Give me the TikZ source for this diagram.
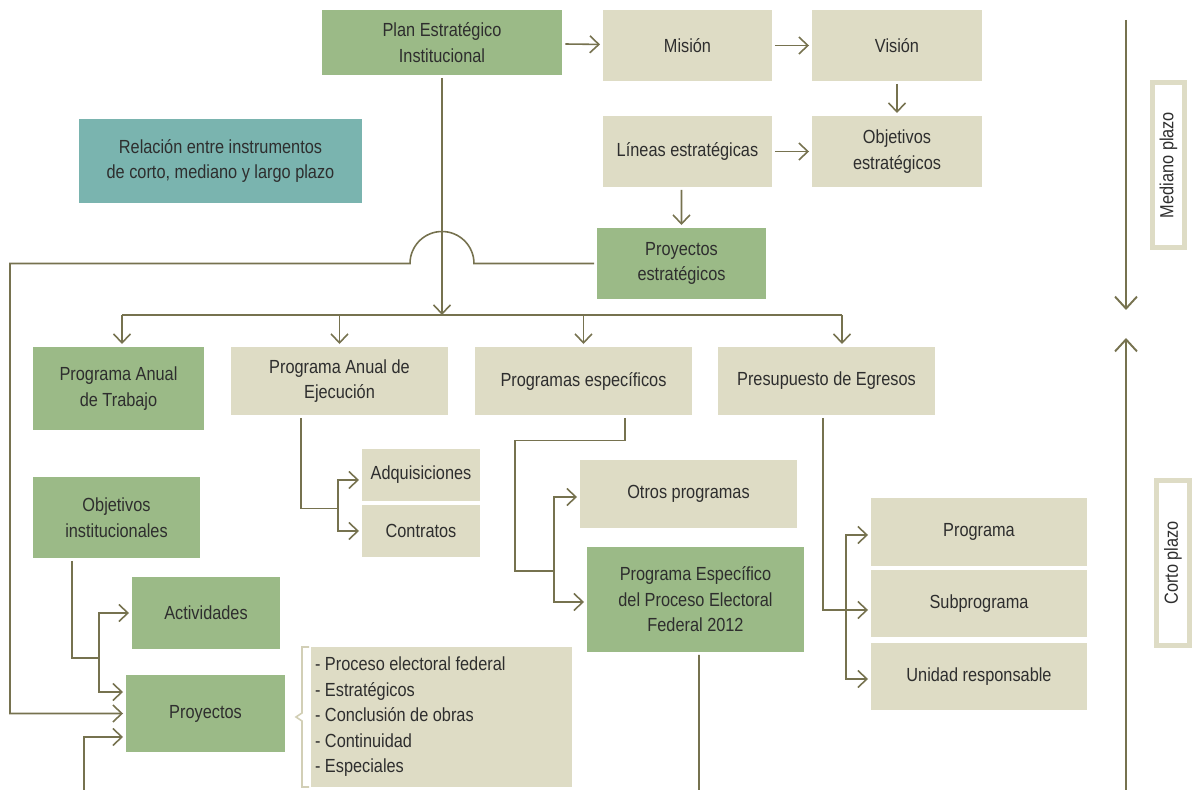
\documentclass[tikz,border=0pt]{standalone}
\usepackage{fontspec}
\setmainfont{Liberation Sans}[FakeStretch=0.86]
\usepackage{tikz}
\usetikzlibrary{arrows.meta,positioning}
\definecolor{verde}{HTML}{9BBA87}
\definecolor{arena}{HTML}{DEDCC5}
\definecolor{turquesa}{HTML}{7AB4AF}
\definecolor{linea}{HTML}{76724F}
\definecolor{texto}{HTML}{2E2E2E}
\definecolor{llavegris}{HTML}{D2CFB6}
\tikzset{
	box/.style={inner sep=0pt, outer sep=0.06cm, align=center, text=texto,
		font=\fontsize{10.8}{14.5}\selectfont},
	greenbox/.style={box, fill=verde},
	sandbox/.style={box, fill=arena},
	link/.style={draw=linea, line width=0.9pt},
	arrow/.style={link, -{Straight Barb[length=0.18cm,width=0.34cm]}},
	bigarrow/.style={draw=linea, line width=1.1pt, -{Straight Barb[length=0.24cm,width=0.44cm]}},
	plazo/.style={draw=arena, fill=white, line width=0.1cm, rotate=90, inner sep=0pt,
		text=texto, font=\fontsize{10.8}{14.5}\selectfont},
	llave/.style={draw=llavegris, line width=0.9pt}
}

\begin{document}
\begin{tikzpicture}[x=0.02cm, y=-0.02cm]
	\useasboundingbox (0,0) rectangle (1198,790);
	
	%% -- Mediano plazo (top)
	\node[greenbox, minimum width=4.82cm, minimum height=1.30cm] (plan) at (442,42.5)
	{Plan Estratégico\\Institucional};
	\node[sandbox, minimum width=3.38cm, minimum height=1.42cm] (mision) at (687.5,45.5) {Misión};
	\node[sandbox, minimum width=3.40cm, minimum height=1.42cm] (vision) at (897,45.5) {Visión};
	\node[sandbox, minimum width=3.38cm, minimum height=1.42cm] (lineas) at (687.5,151.5)
	{Líneas estratégicas};
	\node[sandbox, minimum width=3.40cm, minimum height=1.42cm] (objest) at (897,151.5)
	{Objetivos\\estratégicos};
	\node[greenbox, minimum width=3.38cm, minimum height=1.42cm] (proyest) at (681.5,263.5)
	{Proyectos\\estratégicos};
	
	\node[box, fill=turquesa, minimum width=5.66cm, minimum height=1.68cm] (relacion) at (220.5,161)
	{Relación entre instrumentos\\de corto, mediano y largo plazo};
	
	\draw[arrow] (plan) -- (mision);
	\draw[arrow] (mision) -- (vision);
	\draw[arrow] (vision) -- (objest);
	\draw[arrow] (lineas) -- (objest);
	\draw[arrow] ([xshift=-0.12cm]lineas.south) -- ([xshift=0cm]proyest.north);
	
	%% -- Corto plazo (second row)
	\node[greenbox, minimum width=3.42cm, minimum height=1.66cm] (pat) at (118.5,388.5)
	{Programa Anual\\de Trabajo};
	\node[sandbox, minimum width=4.34cm, minimum height=1.36cm] (pae) at (339.5,381)
	{Programa Anual de\\Ejecución};
	\node[sandbox, minimum width=4.34cm, minimum height=1.36cm] (pe) at (583.5,381)
	{Programas específicos};
	\node[sandbox, minimum width=4.34cm, minimum height=1.36cm] (presup) at (826.5,381)
	{Presupuesto de Egresos};
	
	\coordinate (reparto) at (442,315);
	\draw[arrow] (plan) -- (reparto);
	\draw[link] ([xshift=0.07cm]pat.north |- reparto) -- ([xshift=0.31cm]presup.north |- reparto);
	\foreach \n/\d in {pat/0.07, pae/0, pe/0, presup/0.31}
	\draw[arrow] ([xshift=\d cm]\n.north |- reparto) -- ([xshift=\d cm]\n.north);
	
	%% -- Ejecucion
	\node[sandbox, minimum width=2.36cm, minimum height=1.04cm] (adq) at (421,475) {Adquisiciones};
	\node[sandbox, minimum width=2.36cm, minimum height=1.04cm] (contratos) at (421,531) {Contratos};
	\coordinate (paeb) at (338,508.5);
	\draw[link] ([xshift=-0.77cm]pae.south) |- (paeb);
	\draw[arrow] (paeb) |- ([yshift=-0.1cm]adq.west);
	\draw[arrow] (paeb) |- (contratos.west);
	
	%% -- Programas especificos
	\node[sandbox, minimum width=4.34cm, minimum height=1.36cm] (otros) at (688.5,494) {Otros programas};
	\node[greenbox, minimum width=4.34cm, minimum height=2.10cm] (pepe) at (695.5,599.5)
	{Programa Específico\\del Proceso Electoral\\Federal 2012};
	\coordinate (pecodo) at (515,440.5);
	\coordinate (peb) at (554,571);
	\draw[link] ([xshift=0.83cm]pe.south) |- (pecodo) |- (peb);
	\draw[arrow] (peb) |- ([yshift=-0.06cm]otros.west);
	\draw[arrow] (peb) |- ([yshift=-0.05cm]pepe.west);
	\coordinate (fondo) at (699,790);
	\draw[link] ([xshift=0.07cm]pepe.south) -- (fondo);
	
	%% -- Presupuesto
	\node[sandbox, minimum width=4.32cm, minimum height=1.36cm] (programa) at (979,532) {Programa};
	\node[sandbox, minimum width=4.32cm, minimum height=1.34cm] (subprograma) at (979,603.5) {Subprograma};
	\node[sandbox, minimum width=4.32cm, minimum height=1.34cm] (unidad) at (979,676.5) {Unidad responsable};
	\coordinate (prb) at (846,610);
	\draw[arrow] ([xshift=-0.07cm]presup.south) |- ([yshift=-0.13cm]subprograma.west);
	\draw[arrow] (prb) |- ([yshift=-0.06cm]programa.west);
	\draw[arrow] (prb) |- ([yshift=-0.05cm]unidad.west);
	
	%% -- Programa Anual de Trabajo
	\node[greenbox, minimum width=3.34cm, minimum height=1.62cm] (objinst) at (116.5,517.5)
	{Objetivos\\institucionales};
	\node[greenbox, minimum width=2.96cm, minimum height=1.44cm] (actividades) at (206,613) {Actividades};
	\node[greenbox, minimum width=3.18cm, minimum height=1.54cm] (proyectos) at (205.5,713.5) {Proyectos};
	\coordinate (oib) at (99,658);
	\draw[link] ([xshift=-0.89cm]objinst.south) |- (oib);
	\draw[arrow] (oib) |- (actividades.west);
	\draw[arrow] (oib) |- ([yshift=0.43cm]proyectos.west);
	
	%% -- From Proyectos estrategicos, jumping over the main line
	\coordinate (esquina) at (10,263.5);
	\draw[arrow] (proyest.west) -- ([xshift=0.64cm]plan.south |- proyest.west)
	arc[start angle=0, end angle=180, radius=0.64cm] -- (esquina) |- (proyectos.west);
	\coordinate (abajo) at (84,790);
	\draw[arrow] (abajo) |- ([yshift=-0.47cm]proyectos.west);
	
	%% -- Tipos de proyectos
	\node[box, fill=arena, outer sep=0pt, text width=5.06cm, inner xsep=0.08cm,
	minimum height=2.8cm, align=flush left] (lista) at (441.5,717)
	{- Proceso electoral federal\\
		- Estratégicos\\
		- Conclusión de obras\\
		- Continuidad\\
		- Especiales};
	\draw[llave] ([xshift=-0.04cm]lista.north west) -- ++(-7,0) -- ++(0,66) -- ++(-6,4)
	-- ++(6,4) -- ++(0,66) -- ++(7,0);
	
	%% -- Plazos (right side)
	\coordinate (mtop) at (1126,20);
	\coordinate (mbot) at (1126,310);
	\coordinate (ctop) at (1126,338);
	\coordinate (cbot) at (1126,790);
	\draw[bigarrow] (mtop) -- (mbot);
	\draw[bigarrow] (cbot) -- (ctop);
	\node[plazo, minimum width=3.3cm, minimum height=0.64cm] (mediano) at (1168.5,165) {Mediano plazo};
	\node[plazo, minimum width=3.3cm, minimum height=0.66cm] (corto) at (1173,563) {Corto plazo};
	
\end{tikzpicture}
\end{document}
